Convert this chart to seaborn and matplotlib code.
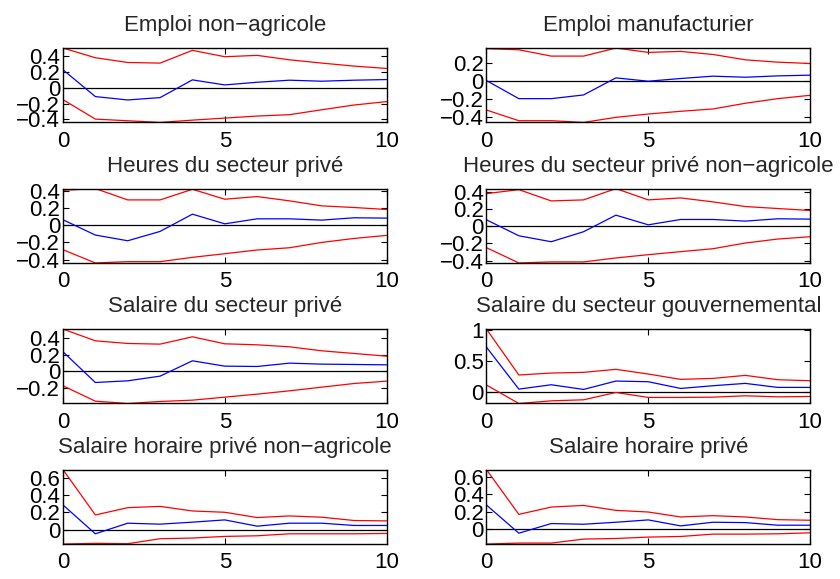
import numpy as np
import pandas as pd
import matplotlib
matplotlib.use("Agg")
import matplotlib.pyplot as plt
from matplotlib.ticker import MultipleLocator, FuncFormatter
import seaborn as sns

horizons = [0, 1, 2, 3, 4, 5, 6, 7, 8, 9, 10]

titles = [
    "Emploi non\u2212agricole",
    "Emploi manufacturier",
    "Heures du secteur privé",
    "Heures du secteur privé non\u2212agricole",
    "Salaire du secteur privé",
    "Salaire du secteur gouvernemental",
    "Salaire horaire privé non\u2212agricole",
    "Salaire horaire privé",
]

# Panel 1: Emploi non-agricole
p1_upper = [0.506, 0.383, 0.323, 0.315, 0.477, 0.396, 0.413, 0.357, 0.315, 0.277, 0.247]
p1_irf = [0.230, -0.110, -0.153, -0.123, 0.102, 0.038, 0.072, 0.098, 0.085, 0.098, 0.106]
p1_lower = [-0.149, -0.396, -0.417, -0.438, -0.409, -0.383, -0.357, -0.340, -0.277, -0.217, -0.174]

# Panel 2: Emploi manufacturier
p2_upper = [0.360, 0.348, 0.278, 0.278, 0.367, 0.319, 0.330, 0.296, 0.237, 0.211, 0.196]
p2_irf = [0.007, -0.193, -0.193, -0.152, 0.037, 0.000, 0.030, 0.056, 0.044, 0.059, 0.067]
p2_lower = [-0.319, -0.437, -0.437, -0.456, -0.400, -0.363, -0.333, -0.307, -0.244, -0.193, -0.156]

# Panel 3: Heures du secteur privé
p3_upper = [0.404, 0.423, 0.292, 0.292, 0.415, 0.300, 0.331, 0.281, 0.223, 0.204, 0.181]
p3_irf = [0.062, -0.115, -0.181, -0.073, 0.127, 0.015, 0.073, 0.073, 0.058, 0.085, 0.081]
p3_lower = [-0.285, -0.438, -0.423, -0.423, -0.373, -0.331, -0.288, -0.262, -0.200, -0.154, -0.119]

# Panel 4: Heures du secteur privé non-agricole
p4_upper = [0.377, 0.423, 0.292, 0.304, 0.435, 0.304, 0.327, 0.281, 0.227, 0.204, 0.181]
p4_irf = [0.073, -0.112, -0.181, -0.065, 0.127, 0.015, 0.077, 0.077, 0.058, 0.085, 0.081]
p4_lower = [-0.250, -0.427, -0.415, -0.415, -0.369, -0.331, -0.296, -0.262, -0.196, -0.150, -0.123]

# Panel 5: Salaire du secteur privé
p5_upper = [0.508, 0.368, 0.336, 0.328, 0.416, 0.332, 0.320, 0.296, 0.248, 0.216, 0.184]
p5_irf = [0.236, -0.132, -0.112, -0.056, 0.128, 0.064, 0.060, 0.100, 0.088, 0.084, 0.080]
p5_lower = [-0.172, -0.356, -0.384, -0.360, -0.344, -0.308, -0.272, -0.232, -0.188, -0.144, -0.116]

# Panel 6: Salaire du secteur gouvernemental
p6_upper = [1.016, 0.272, 0.304, 0.315, 0.364, 0.288, 0.201, 0.217, 0.266, 0.196, 0.179]
p6_irf = [0.723, 0.043, 0.114, 0.038, 0.174, 0.163, 0.054, 0.098, 0.136, 0.071, 0.071]
p6_lower = [0.109, -0.190, -0.147, -0.130, -0.011, -0.092, -0.092, -0.087, -0.065, -0.082, -0.076]

# Panel 7: Salaire horaire privé non-agricole
p7_upper = [0.693, 0.171, 0.255, 0.270, 0.217, 0.202, 0.141, 0.160, 0.145, 0.107, 0.103]
p7_irf = [0.286, -0.046, 0.076, 0.065, 0.088, 0.114, 0.042, 0.076, 0.076, 0.050, 0.050]
p7_lower = [-0.164, -0.156, -0.160, -0.103, -0.095, -0.076, -0.069, -0.046, -0.046, -0.046, -0.042]

# Panel 8: Salaire horaire privé
p8_upper = [0.686, 0.171, 0.255, 0.274, 0.217, 0.198, 0.141, 0.156, 0.141, 0.110, 0.103]
p8_irf = [0.278, -0.046, 0.065, 0.057, 0.080, 0.107, 0.038, 0.080, 0.076, 0.046, 0.046]
p8_lower = [-0.171, -0.160, -0.160, -0.114, -0.107, -0.091, -0.084, -0.057, -0.057, -0.053, -0.042]

panels = [
    (p1_upper, p1_irf, p1_lower, 0.2),
    (p2_upper, p2_irf, p2_lower, 0.2),
    (p3_upper, p3_irf, p3_lower, 0.2),
    (p4_upper, p4_irf, p4_lower, 0.2),
    (p5_upper, p5_irf, p5_lower, 0.2),
    (p6_upper, p6_irf, p6_lower, 0.5),
    (p7_upper, p7_irf, p7_lower, 0.2),
    (p8_upper, p8_irf, p8_lower, 0.2),
]

sns.set_style("ticks")
plt.rcParams["font.family"] = ["Liberation Sans", "DejaVu Sans"]
plt.rcParams["axes.unicode_minus"] = True

fig, axes = plt.subplots(4, 2, figsize=(8.4, 5.79), dpi=100)
fig.subplots_adjust(left=0.075, right=0.9643, top=0.917, bottom=0.0604,
                    wspace=0.309, hspace=0.89)


def fmt(v, pos):
    s = "%g" % round(v, 6)
    if s in ("-0", "0"):
        return "0"
    return s.replace("-", "\u2212")


for ax, title, (up, irf, lo, step) in zip(axes.flat, titles, panels):
    df = pd.DataFrame({"h": horizons, "upper": up, "irf": irf, "lower": lo})
    sns.lineplot(data=df, x="h", y="upper", color="red", lw=0.9, ax=ax)
    sns.lineplot(data=df, x="h", y="lower", color="red", lw=0.9, ax=ax)
    sns.lineplot(data=df, x="h", y="irf", color="blue", lw=0.9, ax=ax)
    ax.axhline(0, color="black", lw=0.9, zorder=1)
    ymin = min(lo)
    ymax = max(up)
    ax.set_xlim(0, 10)
    ax.set_ylim(ymin, ymax)
    ax.xaxis.set_major_locator(MultipleLocator(5))
    ax.yaxis.set_major_locator(MultipleLocator(step))
    ax.yaxis.set_major_formatter(FuncFormatter(fmt))
    ax.set_xlabel("")
    ax.set_ylabel("")
    ax.set_title(title, fontsize=16, pad=12)
    ax.tick_params(direction="in", length=4, width=0.8, labelsize=16,
                   top=True, right=True, colors="black")
    ax.tick_params(axis="x", pad=6)
    ax.tick_params(axis="y", pad=2)
    for sp in ax.spines.values():
        sp.set_visible(True)
        sp.set_color("black")
        sp.set_linewidth(1.0)

fig.savefig("out.png", dpi=100, facecolor="white")
